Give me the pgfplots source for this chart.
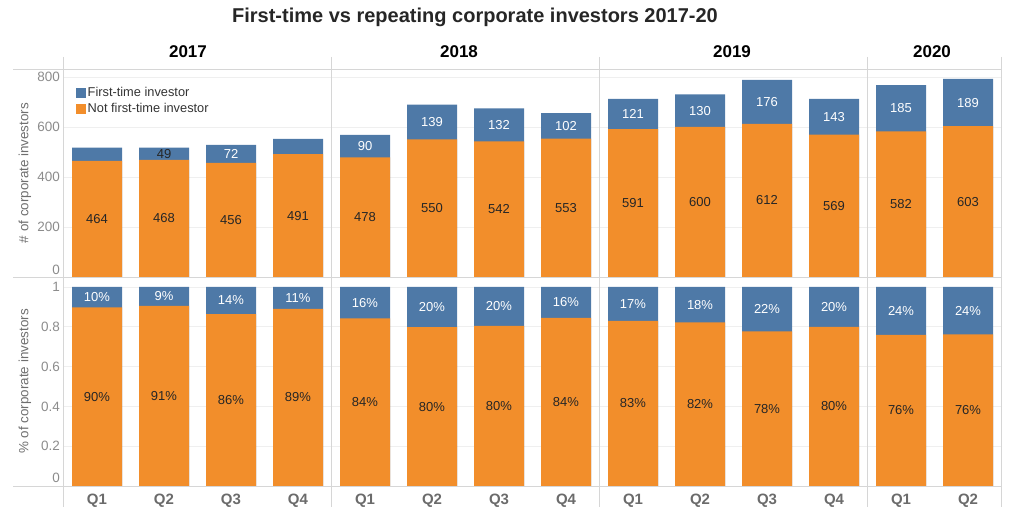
\documentclass[border=0pt]{standalone}
\usepackage{pgfplots}
\pgfplotsset{compat=1.18}
\usepackage{pgfplotstable}
\usepackage{fontspec}
\setmainfont{Liberation Sans}
\definecolor{tblue}{HTML}{4E79A7}
\definecolor{torange}{HTML}{F28E2B}
\definecolor{gridc}{HTML}{EFEFEF}
\definecolor{linec}{HTML}{D6D6D6}
\definecolor{tickc}{HTML}{8C8C8C}
\definecolor{titc}{HTML}{6E6E6E}
\definecolor{qc}{HTML}{6B6B6B}
\definecolor{darklab}{HTML}{262626}

\pgfplotstableread{
x a b pa pb
0 464 53 90 10
1 468 49 91 9
2 456 72 86 14
3 491 61 89 11
4 478 90 84 16
5 550 139 80 20
6 542 132 80 20
7 553 102 84 16
8 591 121 83 17
9 600 130 82 18
10 612 176 78 22
11 569 143 80 20
12 582 185 76 24
13 603 189 76 24
}\data

\pgfplotsset{
  /pgf/number format/assume math mode=true,
  panel/.style={
    scale only axis, width=938pt, xmin=-0.5, xmax=13.5,
    axis line style={draw=none},
    major tick length=0pt,
    ymajorgrids, major grid style={gridc, line width=0.8pt},
    yticklabel style={font=\fontsize{13.5}{15}\selectfont, text=tickc},
    every axis y label/.style={at={(axis description cs:0,0.5)}, anchor=center, rotate=90, yshift=38.5pt, font=\fontsize{13.4}{15}\selectfont, text=titc},
  },
  bars/.style={ybar, bar width=50pt, bar shift=0pt, draw=none,
    legend image code/.code={\fill[##1] (0pt,-5pt) rectangle (10pt,5pt);}},
  labs/.style={draw=none, mark=none, forget plot, point meta=explicit symbolic,
    nodes near coords style={anchor=center, font=\fontsize{13}{15}\selectfont, text=#1}},
}

\begin{document}
\begin{tikzpicture}[x=1pt,y=1pt]
\useasboundingbox (0pt,0pt) rectangle (1024pt,522pt);
\node[font=\bfseries\fontsize{20}{23}\selectfont, text=black!85] at (475pt,505pt) {First-time vs repeating corporate investors 2017-20};

\begin{axis}[panel, at={(63.5pt,245pt)}, anchor=south west, height=208pt,
  ymin=0, ymax=832, ytick={200,400,600,800},
  extra y ticks={0}, extra y tick style={yticklabel style={yshift=7pt}},
  xtick=\empty,
  ylabel={\# of corporate investors},
  legend style={at={(axis description cs:0,1)}, anchor=north west, xshift=12pt, yshift=-16.5pt,
    draw=none, fill=none, font=\fontsize{12.8}{15}\selectfont, text=black!80,
    inner sep=0pt, row sep=1pt, legend cell align=left},
]
\addplot[bars, fill=tblue] table[x=x, y expr=\thisrow{a}+\thisrow{b}] {\data};
\addlegendentry{First-time investor}
\addplot[bars, fill=torange] table[x=x, y=a] {\data};
\addlegendentry{Not first-time investor}
\addplot[labs=darklab, nodes near coords] table[x=x, y expr=\thisrow{a}/2, meta=a] {\data};
\addplot[labs=white, nodes near coords, skip coords between index={0}{2}, skip coords between index={3}{4}]
  table[x=x, y expr=\thisrow{a}+\thisrow{b}/2, meta=b] {\data};
\addplot[labs=darklab, nodes near coords, skip coords between index={0}{1}, skip coords between index={2}{14}]
  table[x=x, y expr=\thisrow{a}+\thisrow{b}/2, meta=b] {\data};
\end{axis}

\begin{axis}[panel, at={(63.5pt,36pt)}, anchor=south west, height=209pt,
  ymin=0, ymax=1.05, ytick={0.2,0.4,0.6,0.8,1},
  extra y ticks={0}, extra y tick style={yticklabel style={yshift=8pt}},
  xtick={0,...,13}, xticklabels={Q1,Q2,Q3,Q4,Q1,Q2,Q3,Q4,Q1,Q2,Q3,Q4,Q1,Q2},
  xticklabel style={font=\bfseries\fontsize{15}{17}\selectfont, text=qc, yshift=-4.5pt},
  ylabel={\% of corporate investors},
]
\addplot[bars, fill=tblue] table[x=x, y expr=(\thisrow{a}+\thisrow{b})/(\thisrow{a}+\thisrow{b})] {\data};
\addplot[bars, fill=torange] table[x=x, y expr=\thisrow{a}/(\thisrow{a}+\thisrow{b})] {\data};
\addplot[labs=darklab, nodes near coords={\pgfplotspointmeta\%}] table[x=x, y expr=0.5*\thisrow{a}/(\thisrow{a}+\thisrow{b}), meta=pa] {\data};
\addplot[labs=white, nodes near coords={\pgfplotspointmeta\%}] table[x=x, y expr=0.5+0.5*\thisrow{a}/(\thisrow{a}+\thisrow{b}), meta=pb] {\data};
\end{axis}

% frame and separator rules
\foreach \yy in {453,245,36} \draw[linec, line width=0.8pt] (13pt,\yy pt) -- (1001.5pt,\yy pt);
\foreach \xx in {63.5,331.5,599.5,867.5,1001.5} \draw[linec, line width=0.8pt] (\xx pt,465pt) -- (\xx pt,15pt);
% year headers
\foreach \xx/\yr in {188/2017,459/2018,732/2019,932/2020}
  \node[font=\bfseries\fontsize{17}{20}\selectfont] at (\xx pt,470pt) {\yr};
\end{tikzpicture}
\end{document}
